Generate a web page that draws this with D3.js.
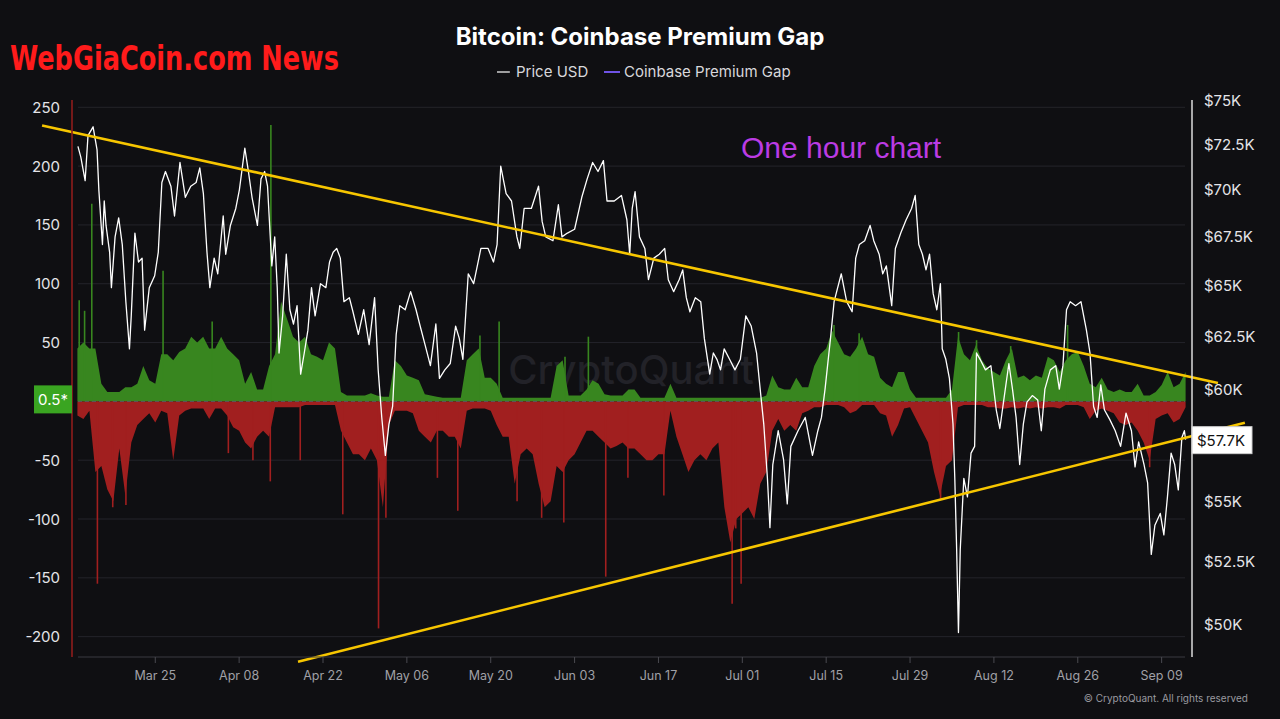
<!DOCTYPE html>
<html>
<head>
<meta charset="utf-8">
<script src="https://cdn.jsdelivr.net/npm/d3@7"></script>
<style>
  html, body { margin: 0; background: #0f0f12; }
  svg { display: block; font-family: Inter, "Noto Sans", sans-serif; }
</style>
</head>
<body>
<svg id="chart" width="1280" height="719"></svg>
<script>
// ---- data ----
const startDate = "2024-03-12";           // day 0 of every series below
const xTickDates = ["2024-03-25","2024-04-08","2024-04-22","2024-05-06","2024-05-20","2024-06-03",
                    "2024-06-17","2024-07-01","2024-07-15","2024-07-29","2024-08-12","2024-08-26","2024-09-09"];
// 0 and $57.5K sit under the current-value badges in the reference
const leftTicks = [-200, -150, -100, -50, 50, 100, 150, 200, 250];
const rightTicks = [50, 52.5, 55, 60, 62.5, 65, 67.5, 70, 72.5, 75]; // $K

// price USD in $K, as [day, price]
const priceSeries = [
  [0.09,72.4],[0.57,71.8],[1.29,70.5],[1.77,73.0],[2.62,73.5],[3.28,72.2],[3.58,70.0],[4.18,67.1],[4.48,69.4],[4.78,68.1],
  [5.38,66.7],[5.68,64.9],[6.29,67.5],[6.89,68.5],[7.49,67.1],[8.09,64.2],[8.69,61.9],[8.99,63.5],[9.6,67.7],[10.2,66.2],
  [10.8,66.4],[11.22,62.8],[12.0,64.9],[12.9,65.5],[13.5,66.7],[14.1,70.4],[14.7,71.0],[15.61,70.2],[16.21,68.6],[17.12,71.5],
  [18.02,69.6],[18.92,70.2],[19.82,70.4],[20.43,71.2],[21.03,69.8],[21.63,66.7],[22.11,64.9],[22.83,66.4],[23.43,65.6],[24.34,68.6],
  [24.76,66.6],[25.54,68.1],[26.44,69.0],[27.04,70.0],[27.95,72.3],[28.55,71.0],[29.15,69.6],[30.05,68.1],[30.65,70.6],[31.26,71.0],
  [31.74,70.2],[32.16,67.7],[32.46,66.0],[32.94,67.5],[33.36,64.9],[33.66,61.7],[34.26,63.5],[34.87,66.6],[35.47,63.8],[36.07,63.1],
  [36.67,64.0],[37.27,60.7],[37.87,61.7],[38.48,62.8],[39.08,64.9],[39.68,63.5],[40.58,65.1],[41.48,64.9],[42.09,66.2],[42.69,66.7],
  [43.29,66.9],[43.89,66.4],[44.49,64.2],[45.4,64.4],[46.0,63.7],[46.9,62.6],[47.8,63.8],[48.7,62.1],[49.61,64.4],[50.21,60.9],
  [50.81,58.7],[51.41,57.0],[52.01,58.4],[52.62,59.2],[53.22,62.6],[53.82,64.0],[54.72,63.8],[55.63,64.7],[56.53,63.8],[57.13,63.1],
  [58.03,62.1],[58.93,61.1],[59.84,63.1],[60.44,60.5],[61.34,60.9],[62.24,61.2],[63.14,63.0],[63.75,62.4],[64.35,61.4],[65.25,65.6],
  [66.15,65.1],[67.36,66.9],[68.56,66.9],[69.46,66.2],[70.06,67.1],[70.67,71.3],[71.57,69.8],[72.47,69.4],[73.37,67.5],[73.85,66.9],
  [74.58,69.0],[75.78,69.0],[76.98,70.2],[77.59,68.3],[78.19,67.5],[79.39,67.3],[80.29,69.2],[80.89,67.5],[81.8,67.7],[83.0,67.9],
  [84.2,69.6],[85.1,70.6],[86.01,71.5],[86.91,71.0],[87.81,71.6],[88.41,69.4],[89.62,69.4],[90.82,69.7],[91.73,68.4],[92.2,66.6],
  [92.62,69.0],[93.1,69.9],[93.83,67.5],[94.73,66.9],[95.33,65.3],[96.23,66.4],[97.14,66.6],[98.04,66.9],[98.64,65.3],[99.54,64.7],
  [100.45,65.3],[101.05,65.8],[101.65,64.4],[102.25,63.7],[103.15,64.4],[104.06,64.2],[104.66,62.4],[105.56,60.7],[106.16,61.7],[106.76,61.4],
  [107.36,60.9],[107.97,61.9],[108.87,61.4],[109.77,60.9],[110.67,61.4],[111.58,63.5],[112.48,63.0],[113.38,61.7],[113.98,60.0],[114.58,58.4],
  [115.19,56.0],[115.61,53.9],[116.09,56.6],[116.99,58.1],[117.89,56.8],[118.5,54.9],[119.1,57.4],[120.3,58.1],[121.5,58.7],[122.71,57.0],
  [123.61,58.1],[124.21,58.7],[124.81,60.0],[125.72,62.4],[126.32,64.2],[126.92,64.9],[127.52,65.6],[128.42,64.2],[129.33,63.7],[129.93,66.4],
  [130.53,67.1],[131.43,67.3],[132.33,68.1],[132.94,67.3],[133.84,66.6],[134.44,65.6],[135.04,66.0],[135.94,64.0],[136.55,66.9],[137.45,67.7],
  [138.35,68.4],[139.25,69.0],[139.86,69.7],[140.46,67.1],[141.06,66.6],[141.66,65.8],[142.26,66.6],[142.86,64.6],[143.47,63.8],[144.07,65.1],
  [144.37,61.9],[144.97,61.4],[145.57,60.5],[146.17,58.4],[146.47,56.0],[146.78,53.0],[147.08,49.7],[147.38,53.0],[147.98,56.0],[148.58,55.2],
  [149.18,57.1],[149.78,57.4],[150.09,61.7],[150.69,61.4],[151.59,60.9],[152.49,61.1],[153.39,59.05],[153.99,58.2],[154.9,60.0],[155.5,61.2],
  [156.1,60.0],[156.7,58.7],[157.3,56.6],[157.91,58.4],[158.51,59.4],[159.41,59.7],[160.31,59.5],[160.91,58.1],[161.51,60.0],[162.42,60.9],
  [163.32,61.1],[163.92,60.0],[164.52,61.1],[165.12,63.8],[165.73,64.2],[166.63,64.0],[167.53,64.2],[168.44,62.8],[169.04,61.7],[169.64,59.2],
  [170.24,58.7],[170.84,60.2],[171.44,59.05],[172.35,58.6],[173.25,58.1],[174.15,57.4],[175.05,58.9],[175.96,58.1],[176.56,56.5],[177.16,57.6],
  [178.06,56.6],[178.66,55.8],[179.27,52.8],[179.87,54.0],[180.77,54.5],[181.37,53.6],[181.97,55.2],[182.58,57.1],[183.18,56.6],[183.78,55.5],
  [184.38,57.8],[184.8,58.1],[185.0,57.7]
];

// Coinbase premium gap: daily upper (green) and lower (red) envelope, day 0..185
const gapHigh = [
  45,50,45,45,15,8,8,8,12,12, 15,30,18,15,40,40,35,42,45,55, 50,55,45,45,55,45,40,35,15,25,
  10,10,30,40,85,70,55,50,55,40, 38,35,50,45,8,5,5,5,5,7, 5,4,4,35,30,22,20,18,6,5,
  4,3,3,3,3,35,40,45,20,20, 15,3,3,3,3,3,3,3,3,3, 30,35,5,5,5,10,18,15,6,5,
  5,5,10,10,3,3,3,3,3,15, 3,3,3,3,3,3,3,3,3,3, 3,3,3,3,3,5,22,12,10,10,
  20,12,12,30,40,45,60,50,40,38, 45,55,40,38,20,15,12,25,25,10, 3,3,3,3,3,3,10,55,40,35,
  48,35,28,25,22,35,45,20,22,18, 22,20,38,35,25,35,40,42,30,15, 12,20,10,8,10,8,8,15,5,5,
  8,14,25,12,15,25
];
const gapLow = [
  -12,-15,-8,-60,-55,-75,-85,-40,-80,-35, -20,-15,-10,-18,-8,-10,-50,-12,-8,-6, -6,-6,-15,-6,-6,-12,-22,-25,-35,-40,
  -30,-25,-30,-5,-5,-5,-5,-5,-3,-3, -3,-3,-3,-3,-25,-35,-45,-45,-50,-40, -50,-90,-20,-8,-8,-8,-10,-25,-30,-35,
  -25,-25,-30,-30,-40,-8,-6,-6,-6,-8, -20,-30,-30,-70,-45,-40,-45,-70,-90,-85, -55,-60,-50,-45,-35,-25,-25,-30,-35,-40,
  -38,-35,-40,-40,-45,-50,-50,-45,-45,-8, -30,-45,-60,-50,-45,-50,-40,-35,-90,-120, -100,-95,-90,-100,-70,-60,-25,-15,-25,-20,
  -25,-10,-8,-5,-5,-3,-3,-3,-5,-10, -8,-3,-3,-3,-10,-12,-30,-20,-6,-5, -15,-25,-35,-60,-80,-55,-50,-5,-3,-3,
  -3,-3,-5,-5,-6,-6,-5,-6,-5,-6, -5,-6,-5,-5,-6,-3,-3,-3,-5,-15, -8,-6,-8,-10,-18,-20,-18,-25,-35,-50,
  -15,-12,-10,-18,-15,-5
];
// single-hour spikes, [day, value]
const gapSpikes = [
  [0.3,86],[1.2,77],[2.4,168],[3.34,-155],[5.9,-90],[8.1,-88],[14.3,111],[22.5,68],[25.2,-44],[29.3,-50],
  [32.2,-68],[32.3,235],[37.2,-50],[44.3,-96],[50.27,-193],[51.5,-99],[60.1,-65],[63.5,-93],[67.2,56],[70.4,68],
  [73.4,-85],[77.5,-99],[81.2,-103],[81.4,38],[85.3,55],[88.2,-149],[91.9,-65],[97.9,-80],[109.3,-172],[109.9,-108],
  [110.8,-155],[126.3,65],[130.5,58],[144.1,-83],[147.1,59],[150.1,52],[155.8,47],[165.3,65],[179.0,-56]
];

// hand-drawn trend lines, [day, price $K]
const upperTrend = [[-5.9, 73.57], [190.4, 60.29]];
const lowerTrend = [[36.83, 48.59], [194.9, 58.46]];

const lastGap = "0.5*";
const lastPriceK = 57.7;

// ---- layout ----
const svg = d3.select('#chart');
const plot = { left: 77.4, right: 1185.6, top: 100, bottom: 657 };
const green = '#38861f', red = '#a11f1f';

const t0 = d3.utcParse('%Y-%m-%d')(startDate);
const dayToDate = d => new Date(t0.getTime() + d * 864e5);
const x = d3.scaleUtc().domain([t0, dayToDate(185)]).range([plot.left, plot.right]);
const yGap = d3.scaleLinear().domain([-217.3, 256.2]).range([plot.bottom, plot.top]);
const yPrice = d3.scaleLog().domain([48.77, 75.04]).range([plot.bottom, plot.top]);

svg.append('rect').attr('width', 1280).attr('height', 719).attr('fill', '#0f0f12');

// grid
svg.append('g').selectAll('line').data(leftTicks).join('line')
  .attr('x1', 78).attr('x2', 1185)
  .attr('y1', d => yGap(d)).attr('y2', d => yGap(d))
  .attr('stroke', '#24242a').attr('stroke-width', 1);

// watermark
svg.append('text').attr('x', 631).attr('y', 384).attr('text-anchor', 'middle')
  .attr('font-size', 40).attr('font-weight', 500).attr('fill', '#222228')
  .text('CryptoQuant');

// premium gap areas
const gapArea = d3.area().x((v, i) => x(dayToDate(i))).y0(yGap(0)).y1(v => yGap(v));
svg.append('path').datum(gapHigh).attr('d', gapArea).attr('fill', green);
svg.append('path').datum(gapLow).attr('d', gapArea).attr('fill', red);

svg.append('g').selectAll('line').data(gapSpikes).join('line')
  .attr('x1', d => x(dayToDate(d[0]))).attr('x2', d => x(dayToDate(d[0])))
  .attr('y1', yGap(0)).attr('y2', d => yGap(d[1]))
  .attr('stroke', d => d[1] > 0 ? green : red).attr('stroke-width', 1.6);

// zero line
svg.append('line').attr('x1', 78).attr('x2', 1185)
  .attr('y1', yGap(0)).attr('y2', yGap(0))
  .attr('stroke', '#5a5a60').attr('stroke-dasharray', '4,3');

// price line
const priceLine = d3.line().x(d => x(dayToDate(d[0]))).y(d => yPrice(d[1]));
svg.append('path').datum(priceSeries).attr('d', priceLine)
  .attr('fill', 'none').attr('stroke', '#ffffff').attr('stroke-width', 1.3)
  .attr('stroke-linejoin', 'round');

// trend lines
[upperTrend, lowerTrend].forEach(tl => {
  svg.append('path').datum(tl).attr('d', priceLine)
    .attr('fill', 'none').attr('stroke', '#f7c600').attr('stroke-width', 2.6);
});

// x axis
svg.append('line').attr('x1', 78).attr('x2', 1185).attr('y1', plot.bottom).attr('y2', plot.bottom)
  .attr('stroke', '#3a3a40');
const xTicks = xTickDates.map(s => d3.utcParse('%Y-%m-%d')(s));
const fmt = d3.utcFormat('%b %d');
const gx = svg.append('g');
gx.selectAll('line').data(xTicks).join('line')
  .attr('x1', d => x(d)).attr('x2', d => x(d)).attr('y1', plot.bottom).attr('y2', plot.bottom + 6)
  .attr('stroke', '#4a4a50');
gx.selectAll('text').data(xTicks).join('text')
  .attr('x', d => x(d)).attr('y', 680).attr('text-anchor', 'middle')
  .attr('font-size', 12.5).attr('fill', '#a0a0a6').text(d => fmt(d));

// left axis
svg.append('line').attr('x1', 72).attr('x2', 72).attr('y1', plot.top).attr('y2', plot.bottom)
  .attr('stroke', '#8e1c1c').attr('stroke-width', 1.6);
svg.append('g').selectAll('text').data(leftTicks).join('text')
  .attr('x', 60).attr('y', d => yGap(d) + 5.5).attr('text-anchor', 'end')
  .attr('font-size', 15).attr('fill', '#e4e4e8').text(d => d);

// right axis
svg.append('line').attr('x1', 1192).attr('x2', 1192).attr('y1', plot.top).attr('y2', plot.bottom)
  .attr('stroke', '#dcdcdc').attr('stroke-width', 1.5);
svg.append('g').selectAll('text').data(rightTicks).join('text')
  .attr('x', 1204).attr('y', d => yPrice(d) + 5.5)
  .attr('font-size', 15).attr('fill', '#e4e4e8').text(d => '$' + d + 'K');

// current value badges
svg.append('rect').attr('x', 34).attr('y', yGap(0) - 16).attr('width', 38).attr('height', 28).attr('fill', '#3aa521');
svg.append('text').attr('x', 53).attr('y', yGap(0) + 3.5).attr('text-anchor', 'middle')
  .attr('font-size', 15).attr('fill', '#ffffff').text(lastGap);
svg.append('rect').attr('x', 1192).attr('y', yPrice(lastPriceK) - 13).attr('width', 60).attr('height', 27)
  .attr('fill', '#ffffff').attr('stroke', '#cccccc');
svg.append('text').attr('x', 1197).attr('y', yPrice(lastPriceK) + 6)
  .attr('font-size', 15).attr('fill', '#111111').text('$' + lastPriceK + 'K');

// title + legend
svg.append('text').attr('x', 640).attr('y', 45).attr('text-anchor', 'middle')
  .attr('font-size', 24).attr('font-weight', 700).attr('fill', '#ffffff')
  .text('Bitcoin: Coinbase Premium Gap');
const lg = svg.append('g').attr('font-size', 15).attr('fill', '#d8d8dc');
lg.append('line').attr('x1', 497).attr('x2', 510).attr('y1', 72).attr('y2', 72).attr('stroke', '#ffffff').attr('stroke-width', 1.2);
lg.append('text').attr('x', 516).attr('y', 77).text('Price USD');
lg.append('line').attr('x1', 604).attr('x2', 620).attr('y1', 72).attr('y2', 72).attr('stroke', '#7b5cff').attr('stroke-width', 1.8);
lg.append('text').attr('x', 624).attr('y', 77).text('Coinbase Premium Gap');

// annotations
svg.append('text').attr('x', 10).attr('y', 70)
  .attr('font-family', '"DejaVu Sans Condensed", "DejaVu Sans", sans-serif')
  .attr('font-stretch', 'condensed').attr('font-weight', 700)
  .attr('font-size', 33).attr('fill', '#ff1b1b')
  .attr('textLength', 329).attr('lengthAdjust', 'spacingAndGlyphs')
  .text('WebGiaCoin.com News');
svg.append('text').attr('x', 741).attr('y', 158)
  .attr('font-family', '"Liberation Sans", Arial, sans-serif')
  .attr('font-size', 30).attr('fill', '#bb3be4').text('One hour chart');

svg.append('text').attr('x', 1248).attr('y', 702).attr('text-anchor', 'end')
  .attr('font-size', 10).attr('fill', '#9a9aa0').text('© CryptoQuant. All rights reserved');
</script>
</body>
</html>
